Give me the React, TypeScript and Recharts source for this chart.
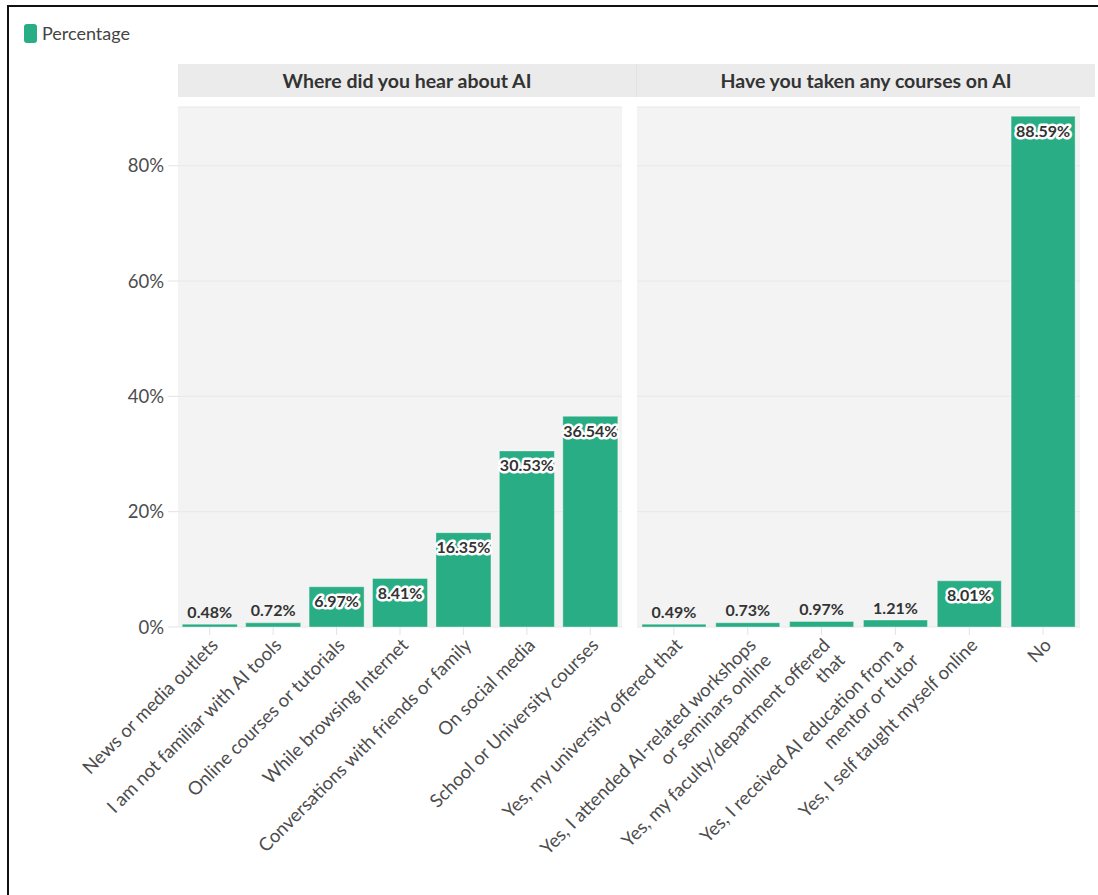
import React from "react";
import { Bar, BarChart, CartesianGrid, LabelList, XAxis, YAxis } from "recharts";

const hearCategories = [
  "News or media outlets",
  "I am not familiar with AI tools",
  "Online courses or tutorials",
  "While browsing Internet",
  "Conversations with friends or family",
  "On social media",
  "School or University courses",
];
const hearValues = [0.48, 0.72, 6.97, 8.41, 16.35, 30.53, 36.54];

const courseCategories = [
  "Yes, my university offered that",
  "Yes, I attended AI-related workshops\nor seminars online",
  "Yes, my faculty/department offered\nthat",
  "Yes, I received AI education from a\nmentor or tutor",
  "Yes, I self taught myself online",
  "No",
];
const courseValues = [0.49, 0.73, 0.97, 1.21, 8.01, 88.59];

const yTicks = [0, 20, 40, 60, 80];

const hearData = hearCategories.map((name, i) => ({ name, value: hearValues[i] }));
const courseData = courseCategories.map((name, i) => ({ name, value: courseValues[i] }));

const maxValue = Math.max(...hearValues, ...courseValues);
const yDomain = [0, maxValue * 1.018];

const FONT = "Lato, 'Open Sans', sans-serif";
const BAR_GREEN = "#29ad84";

function SlantTick(props: any) {
  const { x, y, payload } = props;
  const lines = String(payload.value).split("\n");
  return (
    <g transform={`translate(${x},${y})`}>
      <text
        transform="rotate(-45)"
        textAnchor="end"
        fontSize={18.5}
        fill="#4d4d4d"
        fontFamily={FONT}
      >
        {lines.map((line, i) => (
          <tspan key={i} x={0} dy={i === 0 ? "0.72em" : "1.15em"}>
            {line}
          </tspan>
        ))}
      </text>
    </g>
  );
}

function ValueLabel(props: any) {
  const { x, y, width, value } = props;
  const v = Number(value);
  const inside = v >= 5;
  const cx = Number(x) + Number(width) / 2;
  return (
    <text
      x={cx}
      y={inside ? Number(y) + 14 : Number(y) - 13}
      textAnchor="middle"
      dominantBaseline="central"
      fontSize={16}
      fontWeight={700}
      fontFamily={FONT}
      fill="#333333"
      stroke={inside ? "#ffffff" : "none"}
      strokeWidth={inside ? 5 : 0}
      strokeLinejoin="round"
      paintOrder="stroke"
    >
      {`${v.toFixed(2)}%`}
    </text>
  );
}

function Panel({
  data,
  width,
  left,
  showY,
}: {
  data: Array<{ name: string; value: number }>;
  width: number;
  left: number;
  showY: boolean;
}) {
  return (
    <BarChart
      width={width}
      height={895}
      data={data}
      margin={{ top: 107, right: 18, left: showY ? 0 : left, bottom: 0 }}
      barCategoryGap="6.7%"
    >
      <CartesianGrid vertical={false} fill="#f3f3f3" stroke="#e8e8e8" strokeWidth={1} />
      <XAxis
        dataKey="name"
        interval={0}
        height={268}
        tickSize={8}
        tickLine={{ stroke: "#e3e3e3" }}
        axisLine={false}
        tick={<SlantTick />}
      />
      <YAxis
        hide={!showY}
        width={178}
        domain={yDomain}
        ticks={yTicks}
        tickFormatter={(v) => `${v}%`}
        tickSize={10}
        tickMargin={4}
        tickLine={{ stroke: "#e3e3e3" }}
        axisLine={false}
        tick={{ fontSize: 18.5, fill: "#4d4d4d", fontFamily: FONT }}
      />
      <Bar
        dataKey="value"
        fill={BAR_GREEN}
        stroke="#ffffff"
        strokeOpacity={0.35}
        strokeWidth={1}
        isAnimationActive={false}
      >
        <LabelList dataKey="value" content={<ValueLabel />} />
      </Bar>
    </BarChart>
  );
}

export default function App() {
  return (
    <div
      style={{
        position: "absolute",
        left: 0,
        top: 0,
        width: 1098,
        height: 895,
        background: "#ffffff",
        overflow: "hidden",
        fontFamily: FONT,
      }}
    >
      <div
        style={{
          position: "absolute",
          left: 7,
          top: 5,
          width: 1091,
          height: 890,
          borderTop: "2px solid #111",
          borderLeft: "2px solid #111",
          boxSizing: "border-box",
        }}
      />
      <div
        style={{
          position: "absolute",
          left: 24,
          top: 24,
          width: 13,
          height: 19,
          borderRadius: 3,
          background: BAR_GREEN,
        }}
      />
      <div
        style={{
          position: "absolute",
          left: 42,
          top: 22,
          fontSize: 18,
          lineHeight: "22px",
          color: "#444",
        }}
      >
        Percentage
      </div>
      <div
        style={{
          position: "absolute",
          left: 178,
          top: 64,
          width: 458,
          height: 33,
          background: "#ebebeb",
          color: "#333",
          fontWeight: 700,
          fontSize: 19.5,
          lineHeight: "33px",
          textAlign: "center",
        }}
      >
        Where did you hear about AI
      </div>
      <div
        style={{
          position: "absolute",
          left: 636,
          top: 64,
          width: 459,
          height: 33,
          background: "#ebebeb",
          borderLeft: "1px solid #e2e2e2",
          boxSizing: "border-box",
          color: "#333",
          fontWeight: 700,
          fontSize: 19.5,
          lineHeight: "33px",
          textAlign: "center",
        }}
      >
        Have you taken any courses on AI
      </div>
      <div style={{ position: "absolute", left: 0, top: 0 }}>
        <Panel data={hearData} width={640} left={0} showY={true} />
      </div>
      <div style={{ position: "absolute", left: 400, top: 0 }}>
        <Panel data={courseData} width={698} left={237} showY={false} />
      </div>
    </div>
  );
}
